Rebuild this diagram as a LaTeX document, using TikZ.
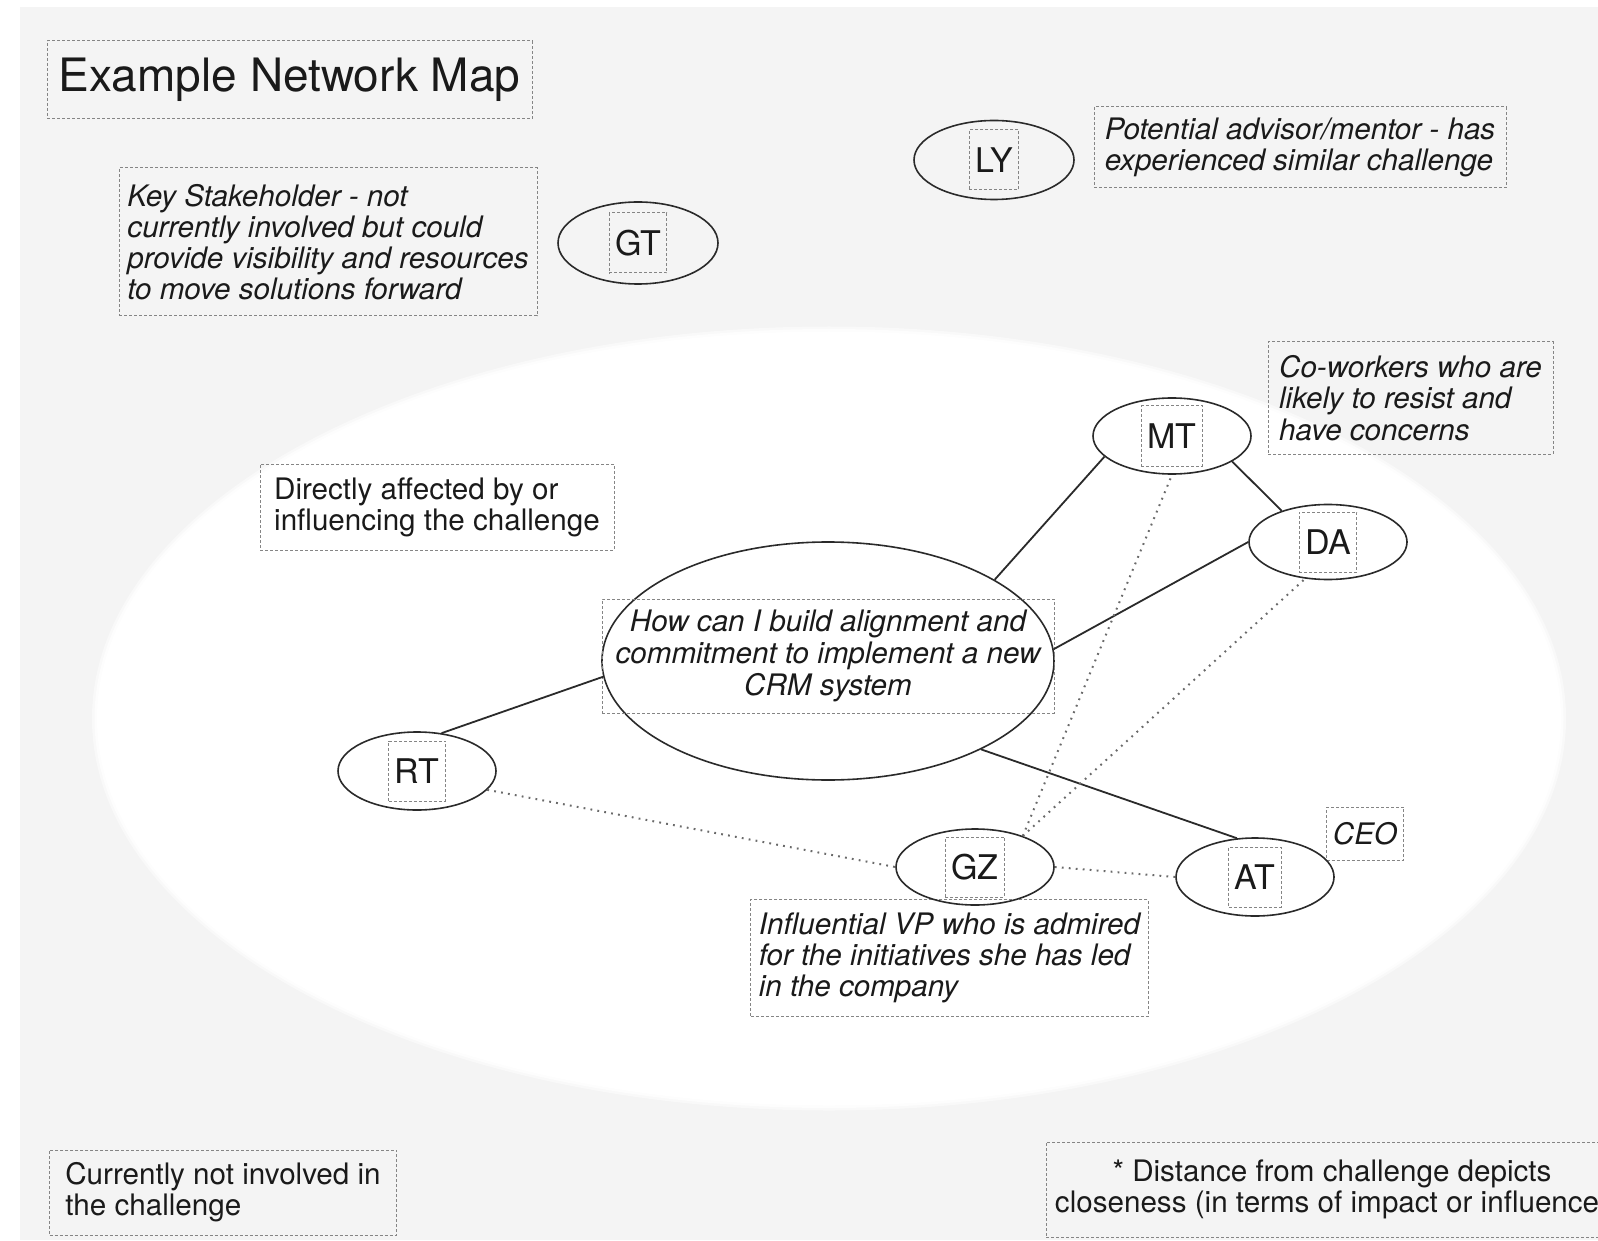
\documentclass[tikz,border=0pt]{standalone}
\usepackage{fontspec}
\setmainfont{TeX Gyre Heros}
\usetikzlibrary{shapes.geometric}
\definecolor{bggray}{HTML}{F4F4F4}
\definecolor{linecol}{HTML}{2A2A2A}
\definecolor{boxgray}{HTML}{858585}
\definecolor{dotgray}{HTML}{6A6A6A}
\definecolor{textcol}{HTML}{1A1A1A}
\newcommand{\bodyfnt}{\fontsize{14.8}{15.6}\selectfont}
\newcommand{\lblfnt}{\fontsize{17}{20}\selectfont}
\newcommand{\titlefnt}{\fontsize{23}{27}\selectfont}
\tikzset{
  txtbox/.style={draw=boxgray, line width=0.5pt, dash pattern=on 1.5pt off 1pt,
    inner xsep=4pt, inner ysep=2pt, text=textcol, font=\bodyfnt, align=left},
  person/.style={ellipse, draw=linecol, line width=0.8pt, inner sep=0pt,
    minimum width=79pt, minimum height=38pt},
  lbl/.style={draw=boxgray, line width=0.5pt, dash pattern=on 1.5pt off 1pt,
    inner xsep=3pt, inner ysep=0pt, minimum height=30pt, font=\lblfnt, text=textcol},
  solidlink/.style={draw=linecol, line width=0.9pt},
  dotlink/.style={draw=dotgray, line width=1pt, dash pattern=on 0.9pt off 2.6pt},
}
\begin{document}
\begin{tikzpicture}[x=0.5pt,y=-0.5pt]
\useasboundingbox (0,0) rectangle (1598,1240);
\clip (0,0) rectangle (1598,1240);
\fill[white] (0,0) rectangle (1598,1240);
\fill[bggray] (20,7) rectangle (1598,1240);
% inner zone (soft edged white ellipse)
\fill[white!50!bggray] (829,718.5) ellipse [x radius=737, y radius=392];
\fill[white!80!bggray] (829,718.5) ellipse [x radius=734.5, y radius=389.5];
\fill[white] (829,718.5) ellipse [x radius=732, y radius=387];

% text boxes
\node[txtbox, font=\titlefnt, minimum width=242.5pt, minimum height=39pt] (title) at (289.5,80) {Example Network Map};
\node[txtbox, font=\bodyfnt\itshape, minimum width=209pt, minimum height=74pt] (keytxt) at (328,242)
  {Key Stakeholder - not\\currently involved but could\\provide visibility and resources\\to move solutions forward};
\node[txtbox, font=\bodyfnt\itshape, minimum width=206pt, minimum height=40.5pt] (advtxt) at (1300,147.5)
  {Potential advisor/mentor - has\\experienced similar challenge};
\node[txtbox, minimum width=177pt, minimum height=43pt] (dirtxt) at (437,507)
  {Directly affected by or\\influencing the challenge};
\node[txtbox, font=\bodyfnt\itshape, minimum width=142.5pt, minimum height=56pt] (cowtxt) at (1410.5,398)
  {Co-workers who are\\likely to resist and\\have concerns};
\node[txtbox, font=\bodyfnt\itshape, minimum width=38.5pt, minimum height=26.5pt, inner xsep=2pt] (ceotxt) at (1365,833.5) {CEO};
\node[txtbox, font=\bodyfnt\itshape, minimum width=198pt, minimum height=58.5pt] (vptxt) at (949.5,958)
  {Influential VP who is admired\\for the initiatives she has led\\in the company};
\node[txtbox, minimum width=173.5pt, minimum height=42.5pt] (nottxt) at (223,1192.5)
  {Currently not involved in\\the challenge};
\node[txtbox, align=center, minimum width=286pt, minimum height=47.5pt] (disttxt) at (1332,1189.5)
  {* Distance from challenge depicts\\closeness (in terms of impact or influence)};

% central challenge
\node[person, minimum width=226pt, minimum height=119pt] (C) at (828,661) {};
\node[txtbox, font={\fontsize{14.8}{16}\selectfont\itshape}, align=center, minimum width=226pt, minimum height=57pt] (Ctxt) at (828,656)
  {How can I build alignment and\\commitment to implement a new\\CRM system};

% people
\node[person, minimum width=80pt, minimum height=41pt] (GT) at (638,243) {};
\node[lbl] (GTl) at (GT) {GT};
\node[person, minimum width=80pt, minimum height=39.5pt] (LY) at (994,160) {};
\node[lbl] (LYl) at (LY) {LY};
\node[person] (MT) at (1172,436) {};
\node[lbl] (MTl) at (MT) {MT};
\node[person, minimum height=37.5pt] (DA) at (1328,542) {};
\node[lbl] (DAl) at (DA) {DA};
\node[person, minimum height=39pt] (RT) at (417,771) {};
\node[lbl] (RTl) at (RT) {RT};
\node[person] (GZ) at (975,867) {};
\node[lbl] (GZl) at (GZ) {GZ};
\node[person, minimum height=39pt] (AT) at (1255,877) {};
\node[lbl] (ATl) at (AT) {AT};

% solid connectors
\draw[solidlink] (C.184) -- (RT.57);
\draw[solidlink] (C.26) -- (MT.197);
\draw[solidlink] (MT.337) -- (DA.146);
\draw[solidlink] (C.3) -- (DA.180);
\draw[solidlink] (C.330) -- (AT.115);

% dotted connectors
\draw[dotlink] (RT.345) -- (GZ.180);
\draw[dotlink] (GZ.0) -- (AT.180);
\draw[dotlink] (GZ.33) -- (MT.270);
\draw[dotlink] (GZ.33) -- (DA.238);
\end{tikzpicture}
\end{document}
